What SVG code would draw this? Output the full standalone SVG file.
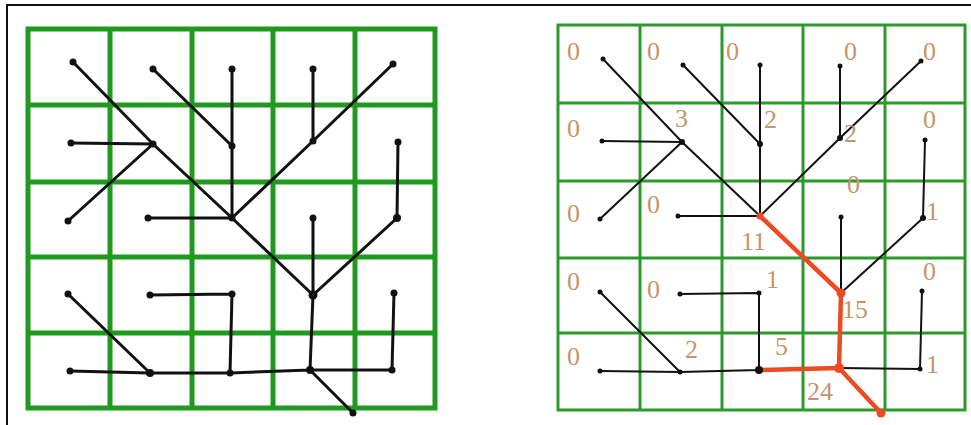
<svg xmlns="http://www.w3.org/2000/svg" width="971" height="425" viewBox="0 0 971 425">
<style>
.bg{fill:#ffffff}
.frame{stroke:#111;stroke-width:2;fill:none}
.gl{stroke:#1f9a1f;stroke-width:5;fill:none}
.gr{stroke:#2a9a2a;stroke-width:3;fill:none}
.el{stroke:#111;stroke-width:3;stroke-linecap:round;fill:none}
.er{stroke:#111;stroke-width:2;stroke-linecap:round;fill:none}
.red{stroke:#ee4a22;stroke-width:4.5;stroke-linecap:round;stroke-linejoin:round;fill:none}
.dl{fill:#111}
.dr{fill:#111}
.dred{fill:#ee4a22}
.lb{font-family:"Liberation Serif","Times New Roman",serif;font-size:26px;fill:#c8946a}
</style>
<rect class="bg" x="0" y="0" width="971" height="425"/>
<path class="frame" d="M7,425 V5 H971"/>

<g id="grid-left">
<rect class="gl" x="28" y="29" width="407" height="379"/>
<path class="gl" d="M110,29V408M192,29V408M273,29V408M355,29V408M28,105H435M28,182H435M28,257H435M28,333H435"/>
</g>
<g id="grid-right">
<rect class="gr" x="558" y="25" width="407" height="385"/>
<path class="gr" d="M640,25V410M722,25V410M803,25V410M885,25V410M558,103H965M558,181H965M558,258H965M558,333H965"/>
</g>

<g id="connectors-left">
<path class="el" d="M73,62L153,144M153,69L232,146M232,69L232,146M313,69L313,141M393,64L313,141M71,143L153,144M68,221L153,144M153,144L232,218M232,146L232,218M313,141L232,218M148,218L232,218M232,218L313,295M398,142L397,218M397,218L313,295M313,218L313,295M313,295L310,370M68,294L150,373M70,371L150,373M150,373L230,373M150,295L232,294M232,294L230,373M230,373L310,370M394,293L392,370M392,370L310,370M310,370L353,413"/>
</g>
<g id="connectors-right">
<path class="er" d="M603,59L682,142M683,65L760,144M760,65L760,144M840,66L840,138M921,61L840,138M602,141L682,142M600,219L682,142M682,142L760,216M760,144L760,216M840,138L760,216M678,216L760,216M925,140L923,218M923,218L841,293M841,217L841,293M600,292L680,372M600,371L680,372M680,372L759,370M680,294L759,293M759,293L759,370M922,291L920,369M920,369L839,368"/>
<path class="red" d="M760,216L841,293L839,368L881,413M759,370L839,368"/>
</g>

<g id="nodes-left">
<g id="L11"><circle class="dl" cx="73" cy="62" r="3.5"/></g>
<g id="L12"><circle class="dl" cx="153" cy="69" r="3.5"/></g>
<g id="L13"><circle class="dl" cx="232" cy="69" r="3.5"/></g>
<g id="L14"><circle class="dl" cx="313" cy="69" r="3.5"/></g>
<g id="L15"><circle class="dl" cx="393" cy="64" r="3.5"/></g>
<g id="L21"><circle class="dl" cx="71" cy="143" r="3.5"/></g>
<g id="L22"><circle class="dl" cx="153" cy="144" r="3.5"/></g>
<g id="L23"><circle class="dl" cx="232" cy="146" r="3.5"/></g>
<g id="L24"><circle class="dl" cx="313" cy="141" r="3.5"/></g>
<g id="L25"><circle class="dl" cx="398" cy="142" r="3.5"/></g>
<g id="L31"><circle class="dl" cx="68" cy="221" r="3.5"/></g>
<g id="L32"><circle class="dl" cx="148" cy="218" r="3.5"/></g>
<g id="L33"><circle class="dl" cx="232" cy="218" r="3.5"/></g>
<g id="L34"><circle class="dl" cx="313" cy="218" r="3.5"/></g>
<g id="L35"><circle class="dl" cx="397" cy="218" r="4"/></g>
<g id="L41"><circle class="dl" cx="68" cy="294" r="3.5"/></g>
<g id="L42"><circle class="dl" cx="150" cy="295" r="3.5"/></g>
<g id="L43"><circle class="dl" cx="232" cy="294" r="3.5"/></g>
<g id="L44"><circle class="dl" cx="313" cy="295" r="4.5"/></g>
<g id="L45"><circle class="dl" cx="394" cy="293" r="3.5"/></g>
<g id="L51"><circle class="dl" cx="70" cy="371" r="3.5"/></g>
<g id="L52"><circle class="dl" cx="150" cy="373" r="4"/></g>
<g id="L53"><circle class="dl" cx="230" cy="373" r="3.5"/></g>
<g id="L54"><circle class="dl" cx="310" cy="370" r="4"/></g>
<g id="L55"><circle class="dl" cx="392" cy="370" r="3.5"/></g>
<g id="Lout"><circle class="dl" cx="353" cy="413" r="3.5"/></g>
</g>

<g id="nodes-right">
<g id="R11"><circle class="dr" cx="603" cy="59" r="2.5"/><text class="lb" x="567" y="60">0</text></g>
<g id="R12"><circle class="dr" cx="683" cy="65" r="2.5"/><text class="lb" x="647" y="60">0</text></g>
<g id="R13"><circle class="dr" cx="760" cy="65" r="2.5"/><text class="lb" x="726" y="60">0</text></g>
<g id="R14"><circle class="dr" cx="840" cy="66" r="2.5"/><text class="lb" x="844" y="60">0</text></g>
<g id="R15"><circle class="dr" cx="921" cy="61" r="2.5"/><text class="lb" x="923" y="60">0</text></g>
<g id="R21"><circle class="dr" cx="602" cy="141" r="2.5"/><text class="lb" x="567" y="137">0</text></g>
<g id="R22"><circle class="dr" cx="682" cy="142" r="3"/><text class="lb" x="675" y="127">3</text></g>
<g id="R23"><circle class="dr" cx="760" cy="144" r="3"/><text class="lb" x="764" y="128">2</text></g>
<g id="R24"><circle class="dr" cx="840" cy="138" r="3"/><text class="lb" x="844" y="142">2</text></g>
<g id="R25"><circle class="dr" cx="925" cy="140" r="2.5"/><text class="lb" x="923" y="128">0</text></g>
<g id="R31"><circle class="dr" cx="600" cy="219" r="2.5"/><text class="lb" x="567" y="222">0</text></g>
<g id="R32"><circle class="dr" cx="678" cy="216" r="2.5"/><text class="lb" x="647" y="213">0</text></g>
<g id="R33"><circle class="dred" cx="760" cy="216" r="3.5"/><text class="lb" x="741" y="250">11</text></g>
<g id="R34"><circle class="dr" cx="841" cy="217" r="2.5"/><text class="lb" x="847" y="193">0</text></g>
<g id="R35"><circle class="dr" cx="923" cy="218" r="3"/><text class="lb" x="926" y="220">1</text></g>
<g id="R41"><circle class="dr" cx="600" cy="292" r="2.5"/><text class="lb" x="567" y="290">0</text></g>
<g id="R42"><circle class="dr" cx="680" cy="294" r="2.5"/><text class="lb" x="647" y="298">0</text></g>
<g id="R43"><circle class="dr" cx="759" cy="293" r="2.5"/><text class="lb" x="766" y="288">1</text></g>
<g id="R44"><circle class="dred" cx="841" cy="293" r="4.5"/><text class="lb" x="842" y="318">15</text></g>
<g id="R45"><circle class="dr" cx="922" cy="291" r="2.5"/><text class="lb" x="923" y="280">0</text></g>
<g id="R51"><circle class="dr" cx="600" cy="371" r="2.5"/><text class="lb" x="567" y="365">0</text></g>
<g id="R52"><circle class="dr" cx="680" cy="372" r="2.5"/><text class="lb" x="685" y="358">2</text></g>
<g id="R53"><circle class="dr" cx="759" cy="370" r="4"/><text class="lb" x="775" y="355">5</text></g>
<g id="R54"><circle class="dred" cx="839" cy="368" r="5"/><text class="lb" x="807" y="400">24</text></g>
<g id="R55"><circle class="dr" cx="920" cy="369" r="2.5"/><text class="lb" x="926" y="373">1</text></g>
<g id="Rout"><circle class="dred" cx="881" cy="413" r="4.5"/></g>
</g>
</svg>
